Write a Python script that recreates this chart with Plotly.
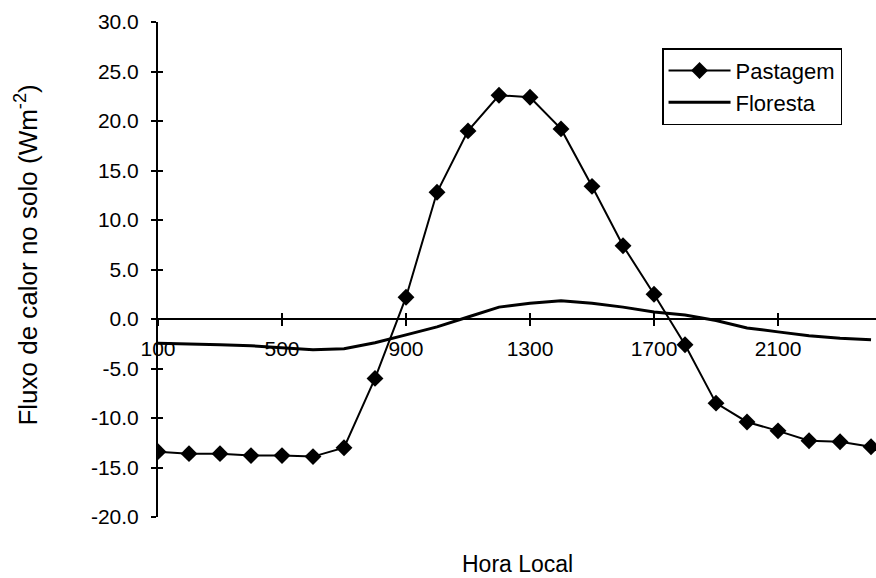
import plotly.graph_objects as go

hours = [100, 200, 300, 400, 500, 600, 700, 800, 900, 1000, 1100, 1200,
         1300, 1400, 1500, 1600, 1700, 1800, 1900, 2000, 2100, 2200, 2300, 2400]
pastagem = [-13.4, -13.6, -13.6, -13.8, -13.8, -13.9, -13.0, -6.0, 2.2, 12.8, 19.0, 22.6,
            22.4, 19.2, 13.4, 7.4, 2.5, -2.6, -8.5, -10.4, -11.3, -12.3, -12.4, -12.9]
floresta = [-2.45, -2.5, -2.6, -2.7, -2.9, -3.1, -3.0, -2.4, -1.6, -0.8, 0.2, 1.2,
            1.6, 1.85, 1.6, 1.2, 0.7, 0.4, -0.15, -0.9, -1.3, -1.7, -1.95, -2.1]
x_ticks = [100, 500, 900, 1300, 1700, 2100]
y_ticks = [-20, -15, -10, -5, 0, 5, 10, 15, 20, 25, 30]
y_ticktext = ["-20.0", "-15.0", "-10.0", "-5.0", "0.0", "5.0", "10.0", "15.0", "20.0", "25.0", "30.0"]

FONT = "Liberation Sans, Arial, sans-serif"
xr = [100, 2416]
yr = [-20, 30]
zero_pos = (0 - yr[0]) / (yr[1] - yr[0])

fig = go.Figure()
fig.add_trace(go.Scatter(x=hours, y=pastagem, name="Pastagem", mode="lines+markers",
                         line=dict(color="black", width=2),
                         marker=dict(symbol="diamond", size=13, color="black")))
fig.add_trace(go.Scatter(x=hours, y=floresta, name="Floresta", mode="lines",
                         line=dict(color="black", width=3)))

fig.update_layout(
    width=876, height=578,
    margin=dict(l=158, r=0, t=22, b=61),
    paper_bgcolor="white", plot_bgcolor="white",
    font=dict(family=FONT, size=21, color="black"),
    showlegend=True,
    legend=dict(x=0.702, y=0.947, xanchor="left", yanchor="top",
                bordercolor="black", borderwidth=1.5, bgcolor="white",
                font=dict(size=22), tracegroupgap=4, itemwidth=62),
    xaxis=dict(range=xr, anchor="free", position=zero_pos,
               tickvals=x_ticks, ticktext=[str(v) for v in x_ticks],
               ticks="outside", ticklen=6, tickwidth=1.5, tickcolor="black",
               ticklabelstandoff=5,
               showline=True, linecolor="black", linewidth=1.5,
               showgrid=False, zeroline=False),
    xaxis2=dict(range=xr, overlaying="x", anchor="free", position=zero_pos,
                tickvals=x_ticks, ticks="inside", ticklen=6, tickwidth=1.5,
                tickcolor="black", showticklabels=False, showline=False,
                showgrid=False, zeroline=False),
    yaxis=dict(range=yr, tickvals=y_ticks, ticktext=y_ticktext,
               ticks="outside", ticklen=5, tickwidth=1.5, tickcolor="black",
               ticklabelstandoff=8,
               showline=True, linecolor="black", linewidth=2,
               showgrid=False, zeroline=False),
    yaxis2=dict(range=yr, overlaying="y", tickvals=y_ticks, ticks="inside",
                ticklen=5, tickwidth=1.5, tickcolor="black",
                showticklabels=False, showline=False, showgrid=False, zeroline=False),
)
# invisible trace to activate the secondary tick axes
fig.add_trace(go.Scatter(x=[hours[0]], y=[pastagem[0]], xaxis="x2", yaxis="y2",
                         mode="markers", marker=dict(opacity=0), showlegend=False,
                         hoverinfo="skip"))

fig.add_annotation(text="Fluxo de calor no solo (Wm<sup>-2</sup>)", textangle=-90,
                   xref="paper", yref="paper", x=-0.1825, y=0.53,
                   xanchor="center", yanchor="middle", showarrow=False,
                   font=dict(size=26))
fig.add_annotation(text="Hora Local", xref="paper", yref="paper", x=0.5, y=-0.095,
                   xanchor="center", yanchor="middle", showarrow=False,
                   font=dict(size=23))

fig.write_html("out.html")
